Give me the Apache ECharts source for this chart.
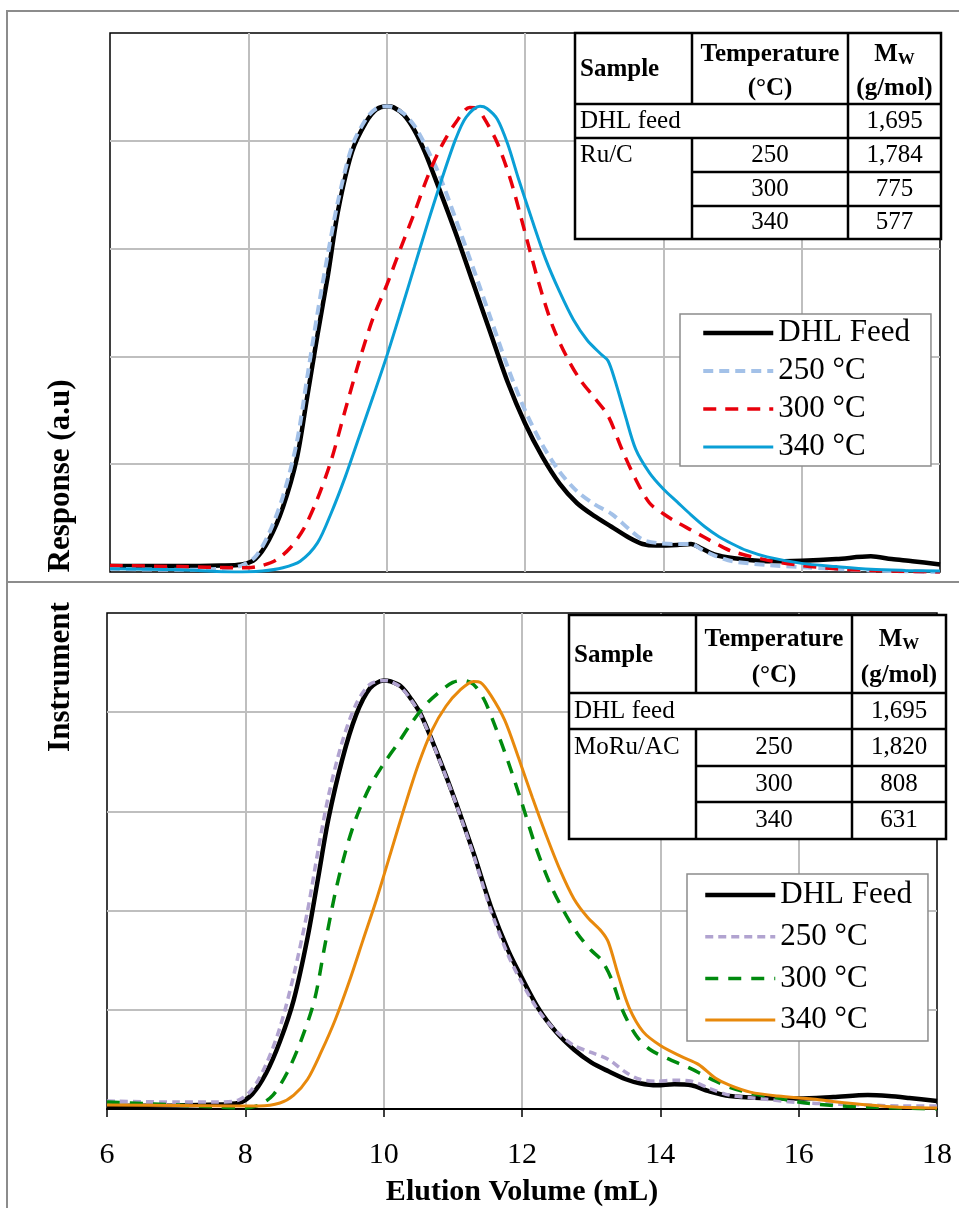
<!DOCTYPE html>
<html>
<head>
<meta charset="utf-8">
<script src="https://cdn.jsdelivr.net/npm/echarts@6/dist/echarts.min.js"></script>
<style>
  html, body { margin: 0; padding: 0; background: #fff; }
  #chart { width: 959px; height: 1208px; }
</style>
</head>
<body>
<div id="chart"></div>
<script>
// ---------- data ----------
const volumeTicks = [6, 8, 10, 12, 14, 16, 18];
const legendNames = ['DHL Feed', '250 °C', '300 °C', '340 °C'];

// Ru/C: [elution volume (mL), response (a.u.)]
const ruFeed = [[6.0,0.055],[7.0,0.055],[7.6,0.06],[7.9,0.07],[8.1,0.12],[8.3,0.3],[8.5,0.6],[8.7,1.05],[8.85,1.62],[9.0,2.2],[9.15,2.75],[9.3,3.36],[9.5,3.9],[9.7,4.17],[9.85,4.29],[10.0,4.32],[10.1,4.31],[10.25,4.24],[10.4,4.1],[10.55,3.9],[10.75,3.57],[11.0,3.14],[11.25,2.68],[11.5,2.22],[11.75,1.76],[12.0,1.38],[12.25,1.07],[12.5,0.82],[12.75,0.64],[13.0,0.52],[13.25,0.42],[13.5,0.32],[13.7,0.26],[13.9,0.245],[14.2,0.25],[14.4,0.26],[14.55,0.22],[14.75,0.16],[15.0,0.13],[15.5,0.1],[16.0,0.105],[16.5,0.12],[17.0,0.145],[17.3,0.12],[17.6,0.1],[18.0,0.07]];
const ru250 = [[6.0,0.03],[7.0,0.02],[7.6,0.03],[7.9,0.06],[8.1,0.14],[8.3,0.36],[8.5,0.7],[8.7,1.2],[8.85,1.8],[9.0,2.4],[9.15,2.95],[9.3,3.45],[9.5,3.95],[9.7,4.2],[9.85,4.3],[10.0,4.32],[10.1,4.31],[10.25,4.25],[10.4,4.14],[10.55,3.97],[10.75,3.7],[11.0,3.27],[11.25,2.82],[11.5,2.36],[11.75,1.9],[12.0,1.5],[12.25,1.18],[12.5,0.93],[12.75,0.75],[13.0,0.63],[13.25,0.54],[13.5,0.4],[13.7,0.3],[13.9,0.27],[14.2,0.26],[14.4,0.26],[14.55,0.21],[14.75,0.15],[15.0,0.1],[15.5,0.065],[16.0,0.045],[17.0,0.015],[18.0,0.0]];
const ru300 = [[6.0,0.06],[7.0,0.05],[7.8,0.04],[8.0,0.04],[8.2,0.06],[8.4,0.11],[8.6,0.22],[8.8,0.4],[9.0,0.68],[9.2,1.04],[9.4,1.5],[9.6,1.95],[9.8,2.35],[10.0,2.66],[10.2,3.0],[10.4,3.33],[10.6,3.68],[10.8,3.96],[11.0,4.17],[11.2,4.31],[11.3,4.3],[11.4,4.22],[11.6,3.98],[11.8,3.62],[12.0,3.15],[12.2,2.68],[12.4,2.28],[12.6,2.0],[12.8,1.78],[13.0,1.62],[13.2,1.45],[13.4,1.14],[13.6,0.86],[13.8,0.64],[14.0,0.54],[14.2,0.46],[14.4,0.39],[14.6,0.32],[14.8,0.25],[15.0,0.19],[15.5,0.11],[16.0,0.06],[16.5,0.03],[17.0,0.015],[18.0,0.0]];
const ru340 = [[6.0,0.03],[7.0,0.02],[7.8,0.0],[8.2,0.01],[8.5,0.04],[8.75,0.1],[9.0,0.27],[9.2,0.55],[9.4,0.88],[9.6,1.25],[9.8,1.62],[10.0,2.0],[10.2,2.41],[10.4,2.83],[10.6,3.25],[10.8,3.65],[11.0,4.02],[11.15,4.22],[11.35,4.32],[11.45,4.3],[11.6,4.2],[11.75,3.97],[11.9,3.66],[12.1,3.27],[12.3,2.9],[12.5,2.6],[12.7,2.34],[12.9,2.15],[13.1,2.02],[13.2,1.96],[13.3,1.78],[13.45,1.45],[13.6,1.14],[13.8,0.92],[14.0,0.77],[14.2,0.65],[14.4,0.53],[14.6,0.42],[14.8,0.33],[15.0,0.26],[15.2,0.2],[15.5,0.14],[16.0,0.08],[16.5,0.05],[17.0,0.025],[17.5,0.015],[18.0,0.01]];

// MoRu/AC: [elution volume (mL), response (a.u.)]
const moFeed = [[6.0,0.03],[7.0,0.035],[7.6,0.045],[7.9,0.06],[8.1,0.15],[8.3,0.36],[8.5,0.68],[8.7,1.1],[8.9,1.73],[9.05,2.32],[9.2,2.92],[9.4,3.52],[9.6,3.97],[9.8,4.24],[10.0,4.32],[10.1,4.31],[10.25,4.26],[10.4,4.13],[10.55,3.96],[10.8,3.54],[11.05,3.08],[11.3,2.58],[11.55,2.04],[11.8,1.6],[12.0,1.32],[12.25,1.0],[12.5,0.77],[12.75,0.6],[13.0,0.47],[13.25,0.38],[13.5,0.3],[13.7,0.26],[13.95,0.24],[14.2,0.25],[14.45,0.24],[14.7,0.18],[15.0,0.13],[15.5,0.11],[16.0,0.105],[16.5,0.12],[17.0,0.14],[17.3,0.13],[17.6,0.11],[18.0,0.08]];
const mo250 = [[6.0,0.08],[7.0,0.07],[7.6,0.07],[7.9,0.09],[8.1,0.2],[8.3,0.45],[8.5,0.82],[8.7,1.35],[8.9,2.0],[9.05,2.6],[9.2,3.15],[9.4,3.7],[9.6,4.08],[9.8,4.28],[10.0,4.32],[10.1,4.31],[10.25,4.25],[10.4,4.12],[10.55,3.95],[10.8,3.53],[11.05,3.07],[11.3,2.56],[11.55,2.0],[11.8,1.55],[12.0,1.27],[12.25,0.98],[12.5,0.78],[12.75,0.64],[13.0,0.57],[13.25,0.5],[13.5,0.37],[13.7,0.3],[13.95,0.28],[14.2,0.29],[14.45,0.28],[14.7,0.21],[15.0,0.14],[15.5,0.1],[16.0,0.065],[16.5,0.05],[17.0,0.04],[17.5,0.03],[18.0,0.03]];
const mo300 = [[6.0,0.07],[7.0,0.04],[7.6,0.02],[8.0,0.01],[8.2,0.04],[8.4,0.14],[8.6,0.36],[8.8,0.68],[9.0,1.1],[9.15,1.65],[9.3,2.18],[9.45,2.6],[9.6,2.93],[9.8,3.25],[10.0,3.48],[10.2,3.68],[10.4,3.89],[10.6,4.07],[10.8,4.2],[11.0,4.3],[11.15,4.32],[11.3,4.28],[11.45,4.13],[11.6,3.88],[11.8,3.5],[12.0,3.08],[12.2,2.64],[12.4,2.28],[12.6,2.0],[12.8,1.77],[13.0,1.6],[13.15,1.5],[13.3,1.3],[13.45,1.0],[13.65,0.74],[13.85,0.6],[14.1,0.51],[14.4,0.42],[14.6,0.35],[14.8,0.28],[15.0,0.22],[15.3,0.16],[15.7,0.11],[16.0,0.07],[16.5,0.035],[17.0,0.02],[17.5,0.01],[18.0,0.0]];
const mo340 = [[6.0,0.04],[7.0,0.035],[7.8,0.03],[8.2,0.03],[8.5,0.06],[8.7,0.14],[8.9,0.3],[9.1,0.58],[9.3,0.9],[9.5,1.28],[9.7,1.7],[9.9,2.12],[10.1,2.58],[10.3,3.04],[10.5,3.47],[10.7,3.82],[10.9,4.06],[11.1,4.22],[11.3,4.31],[11.4,4.3],[11.55,4.17],[11.75,3.92],[11.95,3.54],[12.15,3.14],[12.35,2.76],[12.55,2.41],[12.75,2.12],[12.95,1.93],[13.15,1.79],[13.25,1.68],[13.4,1.33],[13.55,1.02],[13.75,0.78],[14.0,0.64],[14.3,0.53],[14.55,0.45],[14.8,0.31],[15.0,0.24],[15.3,0.17],[15.7,0.13],[16.2,0.1],[16.7,0.06],[17.4,0.02],[18.0,0.01]];

// Mw tables: [sample, temperature (°C), Mw (g/mol)]
const ruTableRows = [['DHL feed', '', '1,695'], ['Ru/C', '250', '1,784'], ['', '300', '775'], ['', '340', '577']];
const moTableRows = [['DHL feed', '', '1,695'], ['MoRu/AC', '250', '1,820'], ['', '300', '808'], ['', '340', '631']];

// ---------- styling ----------
const SERIF = '"Liberation Serif", "Times New Roman", serif';
const GRID_GRAY = '#BFBFBF';

const ruStyles = [
  { color: '#000000', width: 4.5, type: 'solid' },
  { color: '#A3C1E8', width: 4, type: [10, 6] },
  { color: '#E8000B', width: 3.5, type: [13, 9] },
  { color: '#0A9FD6', width: 3, type: 'solid' }
];
const moStyles = [
  { color: '#000000', width: 4.5, type: 'solid' },
  { color: '#B1A3D0', width: 3.5, type: [8, 5] },
  { color: '#008A0E', width: 3.5, type: [13, 10] },
  { color: '#E8890C', width: 3, type: 'solid' }
];

const panels = [
  { left: 110, top: 33, width: 830, height: 539, data: [ruFeed, ru250, ru300, ru340], styles: ruStyles, tag: 'ru' },
  { left: 107, top: 613, width: 830, height: 505, data: [moFeed, mo250, mo300, mo340], styles: moStyles, tag: 'mo' }
];

const grids = panels.map(p => ({
  left: p.left, top: p.top, width: p.width, height: p.height,
  show: true, borderColor: '#000', borderWidth: 1.5, backgroundColor: '#fff'
}));

const xAxes = panels.map((p, i) => ({
  type: 'value', gridIndex: i, min: volumeTicks[0], max: volumeTicks[volumeTicks.length - 1], interval: 2,
  axisLine: { show: i === 1, lineStyle: { color: '#000', width: 2 } },
  axisTick: { show: i === 1, length: 8, lineStyle: { color: '#000', width: 1.5 } },
  axisLabel: { show: i === 1, margin: 31, fontSize: 30, color: '#000', fontFamily: SERIF },
  splitLine: { show: true, showMinLine: false, showMaxLine: false, lineStyle: { color: GRID_GRAY, width: 2 } },
  name: i === 1 ? 'Elution Volume (mL)' : '',
  nameLocation: 'middle', nameGap: 68,
  nameTextStyle: { fontSize: 30, fontWeight: 'bold', color: '#000', fontFamily: SERIF }
}));

const yAxes = panels.map((p, i) => ({
  type: 'value', gridIndex: i, min: 0, max: 5, interval: 1,
  axisLine: { show: false }, axisTick: { show: false }, axisLabel: { show: false },
  splitLine: { show: true, showMinLine: false, showMaxLine: false, lineStyle: { color: GRID_GRAY, width: 2 } }
}));

const series = [];
panels.forEach((p, i) => {
  p.data.forEach((d, k) => {
    const s = p.styles[k];
    series.push({
      name: legendNames[k] + '#' + p.tag,
      type: 'line', xAxisIndex: i, yAxisIndex: i,
      data: d, symbol: 'none', showSymbol: false, smooth: 0.3,
      lineStyle: { color: s.color, width: s.width, type: s.type, cap: 'butt' },
      itemStyle: { color: s.color },
      z: 2 + k
    });
  });
});

const legendText = { fontSize: 31, color: '#000', fontFamily: SERIF };
const legends = [
  { left: 680, top: 314, padding: [1, 21, 1, 21], itemGap: 2, lineHeight: 36, tag: 'ru' },
  { left: 687, top: 874, padding: [1, 16, 1, 16], itemGap: 1.7, lineHeight: 40, tag: 'mo' }
].map(l => ({
  orient: 'vertical', left: l.left, top: l.top, padding: l.padding, itemGap: l.itemGap,
  itemWidth: 70, itemHeight: 14, selectedMode: false,
  backgroundColor: '#fff', borderColor: '#8C8C8C', borderWidth: 1.5,
  itemStyle: { opacity: 0 },
  lineStyle: { width: 'inherit', type: 'inherit', color: 'inherit' },
  data: legendNames.map(n => n + '#' + l.tag),
  formatter: name => name.split('#')[0],
  textStyle: Object.assign({ lineHeight: l.lineHeight }, legendText)
}));

// ---------- Mw tables drawn as graphic elements ----------
function buildTable(colX, rowY, rows) {
  const els = [];
  const stroke = { stroke: '#000', lineWidth: 2.5 };
  const line = (x1, y1, x2, y2) => els.push({ type: 'line', z: 100, shape: { x1, y1, x2, y2 }, style: stroke });
  const text = (x, y, t, align, bold, size) => els.push({
    type: 'text', z: 101, x, y,
    style: { text: t, fill: '#000', font: (bold ? 'bold ' : '') + size + 'px ' + SERIF, align, verticalAlign: 'middle' }
  });
  const L = colX[0], R = colX[3], T = rowY[0], B = rowY[5];
  els.push({ type: 'rect', z: 99, shape: { x: L, y: T, width: R - L, height: B - T }, style: { fill: '#fff', stroke: '#000', lineWidth: 2.5 } });
  line(L, rowY[1], R, rowY[1]);
  line(L, rowY[2], R, rowY[2]);
  line(colX[1], rowY[3], R, rowY[3]);
  line(colX[1], rowY[4], R, rowY[4]);
  line(colX[1], T, colX[1], rowY[1]);
  line(colX[1], rowY[2], colX[1], B);
  line(colX[2], T, colX[2], B);

  const hh = rowY[1] - T;
  const c2 = (colX[1] + colX[2]) / 2, c3 = (colX[2] + colX[3]) / 2;
  text(L + 5, T + hh * 0.52, 'Sample', 'left', true, 25);
  text(c2, T + hh * 0.31, 'Temperature', 'center', true, 25);
  text(c2, T + hh * 0.78, '(°C)', 'center', true, 25);
  els.push({
    type: 'text', z: 101, x: c3, y: T + hh * 0.31,
    style: {
      text: '{m|M}{w|W}', align: 'center', verticalAlign: 'middle',
      rich: {
        m: { font: 'bold 25px ' + SERIF, fill: '#000' },
        w: { font: 'bold 17px ' + SERIF, fill: '#000', padding: [10, 0, 0, 0] }
      }
    }
  });
  text(c3, T + hh * 0.78, '(g/mol)', 'center', true, 25);

  rows.forEach((r, i) => {
    const yc = (rowY[i + 1] + rowY[i + 2]) / 2;
    if (r[0]) text(L + 5, yc, r[0], 'left', false, 25);
    if (r[1]) text(c2, yc, r[1], 'center', false, 25);
    text(c3, yc, r[2], 'center', false, 25);
  });
  return els;
}

const graphics = [
  // outer figure frame and panel divider
  { type: 'rect', z: 0, shape: { x: 7, y: 11, width: 1000, height: 1300 }, style: { fill: 'none', stroke: '#8C8C8C', lineWidth: 2 } },
  { type: 'line', z: 0, shape: { x1: 7, y1: 582, x2: 959, y2: 582 }, style: { stroke: '#8C8C8C', lineWidth: 2 } },
  // shared y-axis title, split across the two panels
  { type: 'text', z: 50, x: 61, y: 476, rotation: Math.PI / 2,
    style: { text: 'Response (a.u)', font: 'bold 31px ' + SERIF, fill: '#000', align: 'center', verticalAlign: 'middle' } },
  { type: 'text', z: 50, x: 61, y: 677, rotation: Math.PI / 2,
    style: { text: 'Instrument', font: 'bold 31px ' + SERIF, fill: '#000', align: 'center', verticalAlign: 'middle' } }
].concat(
  buildTable([575, 692, 848, 941], [33, 104, 138, 172, 206, 239], ruTableRows),
  buildTable([569, 696, 852, 946], [615, 693, 729, 766, 802, 839], moTableRows)
);

const chart = echarts.init(document.getElementById('chart'), null, { renderer: 'canvas' });
chart.setOption({
  animation: false,
  backgroundColor: '#fff',
  grid: grids,
  xAxis: xAxes,
  yAxis: yAxes,
  legend: legends,
  series: series,
  graphic: { elements: graphics }
});
</script>
</body>
</html>
